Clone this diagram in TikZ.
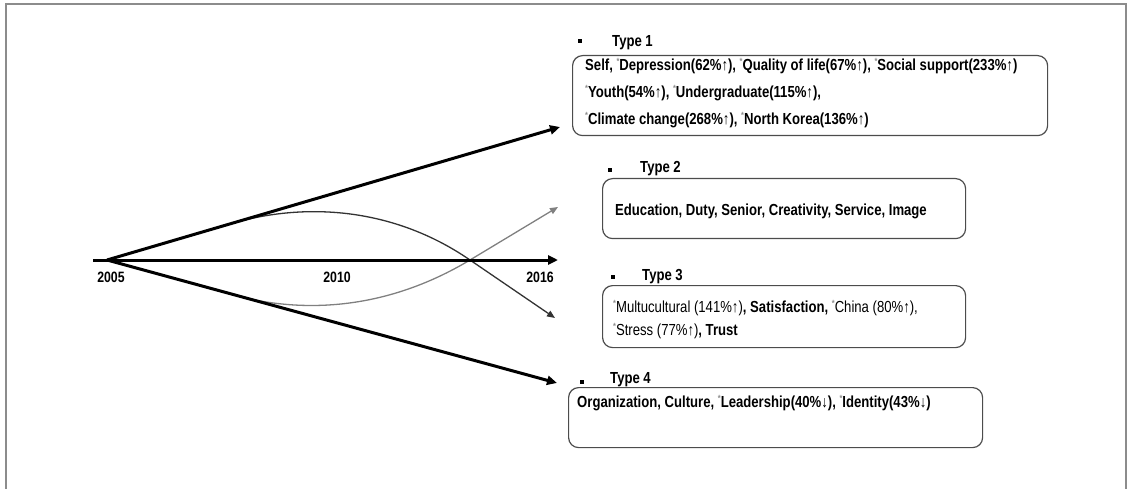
\documentclass[tikz,border=0pt]{standalone}
\usepackage{fontspec}
\setmainfont{Liberation Sans}
\newfontfamily\cf[FakeStretch=0.82]{Liberation Sans}
\usetikzlibrary{arrows.meta}
\definecolor{framegray}{gray}{0.55}
\definecolor{boxgray}{gray}{0.3}
\definecolor{stargray}{gray}{0.55}
\definecolor{curvegray}{gray}{0.5}
\definecolor{curvedark}{gray}{0.2}
\newcommand\st{\raisebox{0.38em}{\fontsize{9}{9}\selectfont\color{stargray}*}}
\begin{document}
\begin{tikzpicture}[x=1pt,y=-1pt,
  txt/.style={font=\cf\bfseries\fontsize{16}{19}\selectfont, inner sep=0pt, anchor=base west},
  yr/.style={font=\cf\bfseries\fontsize{15}{18}\selectfont, inner sep=0pt, anchor=base},
  tbox/.style={draw=boxgray, line width=1.2pt, rounded corners=10pt, anchor=north west, inner sep=0pt},
  bullet/.style={fill=black, inner sep=0pt, minimum size=4.5pt},
  thickarrow/.style={line width=3pt, -{Triangle[length=10pt,width=9pt]}},
  thinarrow/.style={line width=1.3pt, -{Triangle[length=8pt,width=6.5pt]}},
  framecol/.style={draw=framegray, line width=1.8pt}]
\useasboundingbox (0,0) rectangle (1127,489);
% frame
\draw[framecol] (6,489) -- (6,4) -- (1126,4) -- (1126,489);
% fan
\coordinate (start) at (93,260);
\coordinate (o) at (107,260);
\coordinate (t1) at (560,127);
\coordinate (t4) at (557,383);
\coordinate (tax) at (558,260);
\coordinate (t2) at (558,207);
\coordinate (t3) at (555,318);
\coordinate (cross) at (470,260);
\coordinate (up) at (230,224);
\coordinate (lo) at (230,294);
\draw[thinarrow, draw=curvedark] (o) -- (up) .. controls (300,203) and (390,205) .. (cross) -- (t3);
\draw[thinarrow, draw=curvegray] (o) -- (lo) .. controls (300,314) and (385,311) .. (cross) -- (t2);
\draw[thickarrow] (start) -- (tax);
\draw[thickarrow] (o) -- (t1);
\draw[thickarrow] (o) -- (t4);
\node[yr] (y1) at (111,282) {2005};
\node[yr] (y2) at (337,282) {2010};
\node[yr] (y3) at (540,282) {2016};
% Type 1
\node[bullet] (b1) at (580,41) {};
\node[txt] (l1) at (612,47) {Type 1};
\node[tbox, minimum width=475pt, minimum height=80pt] (box1) at (572,55) {};
\node[txt] (a1) at (585,71) {Self, \st Depression(62\%↑), \st Quality of life(67\%↑), \st Social support(233\%↑)};
\node[txt] (a2) at (585,98) {\st Youth(54\%↑), \st Undergraduate(115\%↑),};
\node[txt] (a3) at (585,125) {\st Climate change(268\%↑), \st North Korea(136\%↑)};
% Type 2
\node[bullet] (b2) at (610,170) {};
\node[txt] (l2) at (640,173) {Type 2};
\node[tbox, minimum width=363pt, minimum height=60pt] (box2) at (602,178) {};
\node[txt] (c1) at (615,215.5) {Education, Duty, Senior, Creativity, Service, Image};
% Type 3
\node[bullet] (b3) at (613,277) {};
\node[txt] (l3) at (642,280.5) {Type 3};
\node[tbox, minimum width=363pt, minimum height=62pt] (box3) at (602,285) {};
\node[txt] (d1) at (613,312.5) {\st{\mdseries Multucultural (141\%↑)}, Satisfaction, \st{\mdseries China (80\%↑),}};
\node[txt] (d2) at (613,335.5) {\st{\mdseries Stress (77\%↑)}, Trust};
% Type 4
\node[bullet] (b4) at (582,382) {};
\node[txt] (l4) at (610,383.5) {Type 4};
\node[tbox, minimum width=414pt, minimum height=60pt] (box4) at (568,387) {};
\node[txt] (e1) at (577,407.5) {Organization, Culture, \st Leadership(40\%↓), \st Identity(43\%↓)};
\end{tikzpicture}
\end{document}
